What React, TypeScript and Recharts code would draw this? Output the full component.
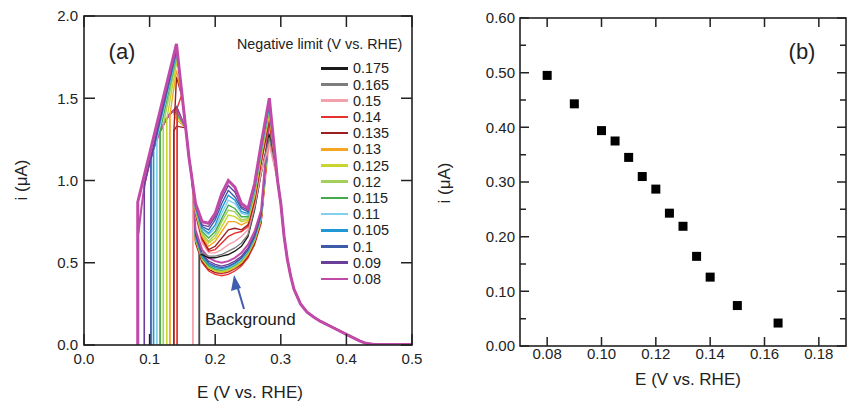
import React from 'react'
import { LineChart, Line, XAxis, YAxis, ScatterChart, Scatter } from 'recharts'

const FONT = '"Liberation Sans", Arial, sans-serif'
const INK = '#222'

// ---- panel (a): stripping voltammograms for each negative limit ----
const limits = ['0.175', '0.165', '0.15', '0.14', '0.135', '0.13', '0.125', '0.12', '0.115', '0.11', '0.105', '0.1', '0.09', '0.08']
const colors = ['#1a1a1a', '#7d7d7d', '#f3a1aa', '#e8312c', '#9c1d22', '#f5a623', '#c8d52e', '#a3cf5c', '#45ab4a', '#82d0ec', '#2198d5', '#3d5ba9', '#6a3f99', '#c04aa8']
const startE = [0.176, 0.175, 0.166, 0.142, 0.137, 0.131, 0.126, 0.121, 0.116, 0.111, 0.106, 0.102, 0.092, 0.082]
const jumpI = [0.55, 0.55, 0.98, 1.44, 1.3, 1.4, 1.37, 1.34, 1.3, 1.25, 1.19, 1.13, 0.97, 0.87]
const peak1E = [0.141, 0.141, 0.141, 0.148, 0.141, 0.141, 0.141, 0.141, 0.141, 0.141, 0.141, 0.141, 0.141, 0.141]
const peakHi = [null, null, null, 1.51, 1.63, 1.67, 1.71, 1.74, 1.76, 1.77, 1.78, 1.79, 1.81, 1.83]
const peakLo = [null, null, null, null, 1.33, 1.37, 1.39, 1.4, 1.41, 1.42, 1.43, 1.45, 1.44, 1.43]
const peak2Hi = [1.28, 1.26, 1.22, 1.36, 1.38, 1.4, 1.42, 1.43, 1.44, 1.45, 1.46, 1.47, 1.48, 1.5]
const peak2Lo = [null, null, 1.23, 1.3, 1.31, 1.32, 1.33, 1.34, 1.35, 1.36, 1.37, 1.38, 1.39, 1.4]

const riseLoE = [0.083, 0.088, 0.093, 0.1, 0.105, 0.11, 0.115, 0.12, 0.125, 0.13, 0.135]
const riseLoI = [0.68, 0.85, 0.99, 1.11, 1.18, 1.24, 1.29, 1.33, 1.37, 1.4, 1.42]
const wallE = [0.145, 0.15, 0.155, 0.16, 0.165]
const wallI = [1.68, 1.5, 1.32, 1.14, 1.0]
const midE = [0.17, 0.18, 0.19, 0.2, 0.21, 0.22, 0.23, 0.24, 0.25, 0.26, 0.27]
const upperMid = [
  [0.6, 0.55, 0.53, 0.53, 0.54, 0.55, 0.57, 0.6, 0.66, 0.82, 1.04],
  [0.6, 0.56, 0.54, 0.54, 0.55, 0.57, 0.59, 0.62, 0.67, 0.83, 1.05],
  [0.79, 0.62, 0.56, 0.56, 0.58, 0.61, 0.63, 0.66, 0.7, 0.85, 1.05],
  [0.8, 0.64, 0.57, 0.58, 0.62, 0.66, 0.68, 0.69, 0.72, 0.87, 1.1],
  [0.8, 0.65, 0.58, 0.6, 0.65, 0.7, 0.71, 0.7, 0.73, 0.88, 1.12],
  [0.81, 0.66, 0.6, 0.63, 0.69, 0.75, 0.75, 0.73, 0.75, 0.9, 1.14],
  [0.82, 0.67, 0.62, 0.65, 0.72, 0.79, 0.78, 0.75, 0.76, 0.91, 1.15],
  [0.82, 0.68, 0.63, 0.67, 0.75, 0.82, 0.81, 0.76, 0.77, 0.92, 1.16],
  [0.83, 0.69, 0.65, 0.69, 0.77, 0.85, 0.83, 0.78, 0.78, 0.93, 1.17],
  [0.83, 0.7, 0.67, 0.71, 0.8, 0.88, 0.86, 0.8, 0.79, 0.94, 1.18],
  [0.84, 0.71, 0.68, 0.73, 0.83, 0.91, 0.88, 0.81, 0.8, 0.95, 1.19],
  [0.84, 0.72, 0.7, 0.76, 0.86, 0.94, 0.9, 0.83, 0.81, 0.96, 1.2],
  [0.85, 0.73, 0.72, 0.78, 0.89, 0.97, 0.93, 0.84, 0.82, 0.97, 1.21],
  [0.86, 0.75, 0.74, 0.8, 0.92, 1.0, 0.96, 0.86, 0.83, 0.98, 1.22],
]
const lowerMid = [
  null,
  null,
  [0.63, 0.51, 0.46, 0.44, 0.43, 0.44, 0.46, 0.49, 0.54, 0.62, 0.75],
  [0.62, 0.5, 0.45, 0.43, 0.42, 0.43, 0.45, 0.48, 0.53, 0.61, 0.74],
  [0.63, 0.51, 0.46, 0.44, 0.435, 0.445, 0.465, 0.49, 0.54, 0.62, 0.75],
  [0.64, 0.52, 0.47, 0.45, 0.44, 0.45, 0.47, 0.5, 0.55, 0.63, 0.76],
  [0.64, 0.52, 0.47, 0.45, 0.445, 0.455, 0.475, 0.505, 0.555, 0.635, 0.765],
  [0.65, 0.53, 0.48, 0.46, 0.45, 0.46, 0.48, 0.51, 0.56, 0.64, 0.77],
  [0.65, 0.53, 0.48, 0.46, 0.455, 0.465, 0.485, 0.515, 0.565, 0.645, 0.775],
  [0.66, 0.54, 0.49, 0.47, 0.46, 0.47, 0.49, 0.52, 0.57, 0.65, 0.78],
  [0.66, 0.54, 0.49, 0.47, 0.465, 0.475, 0.495, 0.525, 0.575, 0.655, 0.785],
  [0.67, 0.55, 0.5, 0.48, 0.47, 0.48, 0.5, 0.53, 0.58, 0.66, 0.79],
  [0.68, 0.56, 0.51, 0.49, 0.48, 0.49, 0.51, 0.54, 0.59, 0.67, 0.8],
  [0.7, 0.58, 0.53, 0.51, 0.5, 0.51, 0.53, 0.56, 0.61, 0.69, 0.82],
]
const peak2E = 0.2825
const tailE = [0.295, 0.3, 0.305, 0.31, 0.315, 0.32, 0.33, 0.34, 0.35, 0.36, 0.38, 0.4, 0.42, 0.43, 0.44, 0.47, 0.5]
const tailI = [1.0, 0.86, 0.66, 0.52, 0.42, 0.34, 0.25, 0.2, 0.17, 0.145, 0.105, 0.065, 0.025, 0.01, 0.004, 0.003, 0.003]

const aTicksX = [0, 0.1, 0.2, 0.3, 0.4, 0.5]
const aTicksY = [0, 0.5, 1, 1.5, 2]

// ---- panel (b): charge vs negative limit ----
const limitE = [0.08, 0.09, 0.1, 0.105, 0.11, 0.115, 0.12, 0.125, 0.13, 0.135, 0.14, 0.15, 0.165]
const currentI = [0.495, 0.443, 0.394, 0.375, 0.345, 0.31, 0.287, 0.243, 0.219, 0.164, 0.126, 0.074, 0.042]
const bTicksX = [0.08, 0.1, 0.12, 0.14, 0.16, 0.18]
const bTicksY = [0, 0.05, 0.1, 0.15, 0.2, 0.25, 0.3, 0.35, 0.4, 0.45, 0.5, 0.55, 0.6]

type Pt = { e: number; i: number }

const withTail = (pts: Pt[], p2: number) => {
  pts.push({ e: peak2E, i: p2 })
  tailE.forEach((e, j) => pts.push({ e, i: tailI[j] }))
  return pts
}

const upperSweep = (k: number): Pt[] => {
  const pts: Pt[] = [{ e: startE[k], i: 0 }, { e: startE[k], i: jumpI[k] }]
  const ph = peakHi[k]
  if (ph !== null) {
    pts.push({ e: peak1E[k], i: ph })
    wallE.forEach((e, j) => { if (e > peak1E[k] && wallI[j] < ph) pts.push({ e, i: wallI[j] }) })
  }
  midE.forEach((e, j) => { if (e > startE[k]) pts.push({ e, i: upperMid[k][j] }) })
  return withTail(pts, peak2Hi[k])
}

const lowerSweep = (k: number): Pt[] | null => {
  const mid = lowerMid[k]
  if (!mid) return null
  const pts: Pt[] = [{ e: startE[k], i: 0 }, { e: startE[k], i: jumpI[k] }]
  let top = jumpI[k]
  let topE = startE[k]
  const pl = peakLo[k]
  if (pl !== null) {
    riseLoE.forEach((e, j) => { if (e > startE[k]) pts.push({ e, i: riseLoI[j] }) })
    pts.push({ e: 0.141, i: pl })
    top = pl
    topE = 0.141
  }
  wallE.forEach((e, j) => { if (e > topE && wallI[j] < top) pts.push({ e, i: wallI[j] }) })
  midE.forEach((e, j) => { if (e > startE[k]) pts.push({ e, i: mid[j] }) })
  return withTail(pts, peak2Lo[k] as number)
}

// plot rectangles (chart-local px), fixed by the chart margins and axis sizes below
const PA = { left: 84, top: 16, width: 328, height: 329 }
const PB = { left: 90, top: 18, width: 326, height: 328 }

// ticks point inwards on all four sides, so each tick draws its label plus both inward marks
const xTick = (plot: typeof PA, len: number, digits: number, gap: number) => (p: any) => {
  const v = p.payload.value
  const yb = plot.top + plot.height
  return (
    <g>
      <path d={`M${p.x},${yb}V${yb - len}M${p.x},${plot.top}V${plot.top + len}`} stroke={INK} strokeWidth={1.5} />
      <text x={p.x} y={yb + gap} dy="0.75em" textAnchor="middle" fontSize={15} fill={INK} fontFamily={FONT}>
        {v.toFixed(digits)}
      </text>
    </g>
  )
}

const yTick = (plot: typeof PA, len: number, minorLen: number, digits: number, gap: number, step: number) => (p: any) => {
  const v = p.payload.value
  const major = Math.abs(v / step - Math.round(v / step)) < 1e-6
  const l = major ? len : minorLen
  const xr = plot.left + plot.width
  return (
    <g>
      <path d={`M${plot.left},${p.y}H${plot.left + l}M${xr},${p.y}H${xr - l}`} stroke={INK} strokeWidth={1.5} />
      {major && (
        <text x={plot.left - gap} y={p.y} dy="0.36em" textAnchor="end" fontSize={15} fill={INK} fontFamily={FONT}>
          {v.toFixed(digits)}
        </text>
      )}
    </g>
  )
}

const Title = ({ x, y, size, rotate, children }: any) => (
  <div
    style={{
      position: 'absolute', left: x, top: y, fontSize: size, color: INK, whiteSpace: 'nowrap',
      transform: `translate(-50%, -50%)${rotate ? ' rotate(-90deg)' : ''}`,
    }}
  >
    {children}
  </div>
)

export default function App() {
  const lowers = limits.map((_, k) => lowerSweep(k))
  const uppers = limits.map((_, k) => upperSweep(k))
  const points = limitE.map((e, j) => ({ e, q: currentI[j] }))

  return (
    <div style={{ position: 'absolute', left: 0, top: 0, width: 848, height: 406, background: '#fff', fontFamily: FONT }}>
      <div style={{ position: 'absolute', left: 0, top: 0 }}>
        <LineChart width={430} height={406} margin={{ top: 16, right: 18, bottom: 21, left: 0 }}>
          <XAxis type="number" dataKey="e" domain={[0, 0.5]} ticks={aTicksX} allowDataOverflow interval={0}
            tick={xTick(PA, 11, 1, 8)} tickLine={false} axisLine={false} tickSize={0} tickMargin={0} height={40} />
          <YAxis type="number" domain={[0, 2]} ticks={aTicksY} allowDataOverflow interval={0}
            tick={yTick(PA, 11, 11, 1, 6, 0.5)} tickLine={false} axisLine={false} tickSize={0} tickMargin={0} width={84} />
          {lowers.map((d, k) => d && (
            <Line key={`lo${k}`} data={d} dataKey="i" type="linear" stroke={colors[k]} strokeWidth={k === 13 ? 2 : 1.3}
              dot={false} isAnimationActive={false} />
          ))}
          {uppers.map((d, k) => (
            <Line key={`up${k}`} data={d} dataKey="i" type="linear" stroke={colors[k]} strokeWidth={k === 13 ? 3 : 1.4}
              dot={false} isAnimationActive={false} />
          ))}
        </LineChart>
      </div>

      <div style={{ position: 'absolute', left: 430, top: 0 }}>
        <ScatterChart width={418} height={406} margin={{ top: 18, right: 2, bottom: 20, left: 0 }}>
          <XAxis type="number" dataKey="e" domain={[0.07, 0.19]} ticks={bTicksX} allowDataOverflow interval={0}
            tick={xTick(PB, 9, 2, 2)} tickLine={false} axisLine={false} tickSize={0} tickMargin={0} height={40} />
          <YAxis type="number" dataKey="q" domain={[0, 0.6]} ticks={bTicksY} allowDataOverflow interval={0}
            tick={yTick(PB, 9, 6, 2, 5, 0.1)} tickLine={false} axisLine={false} tickSize={0} tickMargin={0} width={90} />
          <Scatter data={points} fill="#000" isAnimationActive={false}
            shape={(p: any) => <rect x={p.cx - 4.5} y={p.cy - 4.5} width={9} height={9} fill="#000" />} />
        </ScatterChart>
      </div>

      {/* legend of panel (a) */}
      <div style={{ position: 'absolute', left: 237, top: 36, fontSize: 14.3, color: INK, whiteSpace: 'nowrap' }}>
        Negative limit (V vs. RHE)
      </div>
      {limits.map((lab, k) => (
        <div key={lab} style={{ position: 'absolute', left: 321, top: 60.3 + k * 16.2, height: 16, display: 'flex', alignItems: 'center' }}>
          <div style={{ width: 27, height: 2.5, background: colors[k] }} />
          <span style={{ marginLeft: 5, fontSize: 14.4, color: INK }}>{lab}</span>
        </div>
      ))}

      <Title x={122} y={52} size={22}>(a)</Title>
      <Title x={802} y={52} size={22}>(b)</Title>
      <Title x={250} y={393} size={17}>E (V vs. RHE)</Title>
      <Title x={22} y={180} size={17} rotate>i (μA)</Title>
      <Title x={688} y={380} size={17}>E (V vs. RHE)</Title>
      <Title x={445} y={183} size={17} rotate>i (μA)</Title>

      <div style={{ position: 'absolute', left: 205, top: 310, fontSize: 17, color: INK, whiteSpace: 'nowrap' }}>Background</div>
      <svg width={848} height={406} style={{ position: 'absolute', left: 0, top: 0, pointerEvents: 'none' }}>
        {/* plot frames */}
        <rect x={PA.left} y={PA.top} width={PA.width} height={PA.height} fill="none" stroke={INK} strokeWidth={1.6} />
        <rect x={430 + PB.left} y={PB.top} width={PB.width} height={PB.height} fill="none" stroke={INK} strokeWidth={1.6} />
        {/* arrow pointing at the background curve */}
        <line x1={244} y1={309} x2={237.5} y2={287} stroke="#3f5fae" strokeWidth={2} />
        <polygon points="234,275 231,291 241,288" fill="#3f5fae" />
      </svg>
    </div>
  )
}
